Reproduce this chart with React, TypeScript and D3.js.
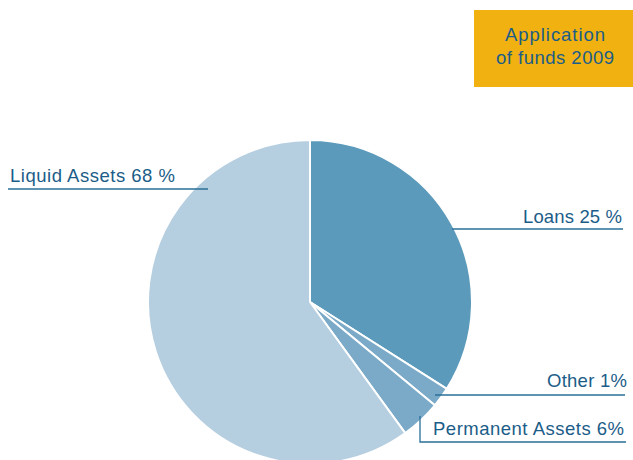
import React, { useEffect, useRef } from 'react';
import * as d3 from 'd3';

// slice order clockwise from 12 o'clock
const categories = ['Loans', 'Other', 'Permanent Assets', 'Liquid Assets'];
const sliceValues = [34, 2, 4, 60]; // share of the circle as drawn
const labelTexts = ['Loans 25 %', 'Other 1%', 'Permanent Assets 6%', 'Liquid Assets 68 %'];
const titleLines = ['Application', 'of funds 2009'];

const colors = ['#5b9aba', '#7aaac8', '#7aaac8', '#b5cee0'];
const ink = '#1b5d88';

const App = () => {
  const ref = useRef<SVGSVGElement>(null);

  useEffect(() => {
    const width = 633;
    const height = 460;
    const cx = 310;
    const cy = 302;
    const r = 162;
    const font = '"Liberation Sans", Arial, sans-serif';

    const svg = d3.select(ref.current);
    svg.selectAll('*').remove();
    svg.attr('width', width).attr('height', height);

    // title box
    svg.append('rect')
      .attr('x', 474).attr('y', 10)
      .attr('width', 159).attr('height', 77)
      .attr('fill', '#f0b111');
    const titleWidths = [100, 118];
    svg.selectAll('.title')
      .data(titleLines)
      .enter().append('text')
      .attr('x', 555)
      .attr('y', (d, i) => 41 + i * 23)
      .attr('text-anchor', 'middle')
      .attr('fill', ink)
      .attr('textLength', (d, i) => titleWidths[i])
      .attr('lengthAdjust', 'spacing')
      .style('font-family', font)
      .style('font-size', '18.5px')
      .text(d => d);

    const pie = d3.pie<number>().sort(null).value(d => d);
    const arc = d3.arc<d3.PieArcDatum<number>>().innerRadius(0).outerRadius(r);
    const arcs = pie(sliceValues);

    const g = svg.append('g').attr('transform', `translate(${cx},${cy})`);
    g.selectAll('path')
      .data(arcs)
      .enter().append('path')
      .attr('d', arc)
      .attr('fill', (d, i) => colors[i])
      .attr('stroke', '#fff')
      .attr('stroke-width', 2)
      .attr('stroke-linejoin', 'round');

    // label layout: leader polyline + text anchor, per category
    const layout = [
      { pts: [[452, 229], [623, 229]], tx: 622, ty: 223, anchor: 'end', w: 99 },
      { pts: [[435, 395], [625, 395]], tx: 627, ty: 387, anchor: 'end', w: 80 },
      { pts: [[420, 416], [420, 442], [626, 442]], tx: 433, ty: 435, anchor: 'start', w: 191 },
      { pts: [[8, 189], [208, 189]], tx: 10, ty: 182, anchor: 'start', w: 165 },
    ];

    const line = d3.line();
    svg.selectAll('.leader')
      .data(layout)
      .enter().append('path')
      .attr('d', d => line(d.pts as [number, number][]))
      .attr('fill', 'none')
      .attr('stroke', '#2a6f98')
      .attr('stroke-width', 1.3);

    svg.selectAll('.label')
      .data(layout)
      .enter().append('text')
      .attr('x', d => d.tx)
      .attr('y', d => d.ty)
      .attr('text-anchor', d => d.anchor)
      .attr('fill', ink)
      .attr('textLength', d => d.w)
      .attr('lengthAdjust', 'spacing')
      .style('font-family', font)
      .style('font-size', '18.5px')
      .text((d, i) => labelTexts[i]);
  }, []);

  return (
    <svg ref={ref} style={{ position: 'absolute', left: 0, top: 0 }} aria-label={categories.join(', ')}></svg>
  );
};

export default App;
